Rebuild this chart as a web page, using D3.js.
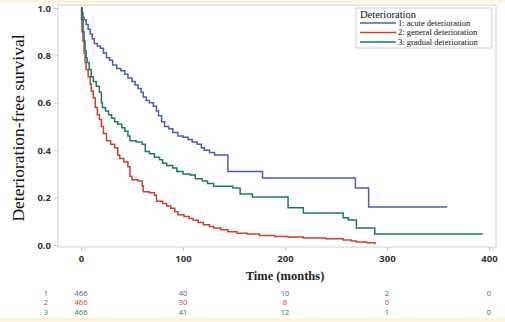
<!DOCTYPE html>
<html><head><meta charset="utf-8">
<script src="https://cdn.jsdelivr.net/npm/d3@7"></script>
<style>html,body{margin:0;padding:0;background:#fff;}svg{display:block;}</style>
</head><body>
<svg id="c" width="505" height="322"></svg>
<script>
const seriesNames = ["1: acute deterioration","2: general deterioration","3: gradual deterioration"];
const seriesColors = ["#4a5cb0","#c8412d","#187a68"];
const xTicks = [0,100,200,300,400];
const yTicks = [0,0.2,0.4,0.6,0.8,1.0];
const riskLabels = ["1","2","3"];
const riskAcute = [466,40,10,2,0];
const riskGeneral = [466,30,8,0,null];
const riskGradual = [466,41,12,1,0];
const acute = [[0,1.0],[1,0.98],[2,0.96],[3,0.95],[5,0.93],[7,0.91],[9,0.89],[11,0.87],[13,0.85],[16,0.84],[19,0.83],[22,0.81],[25,0.79],[28,0.78],[31,0.76],[35,0.745],[39,0.735],[43,0.72],[46,0.705],[50,0.69],[53,0.675],[56,0.66],[59,0.645],[61,0.625],[64,0.61],[67,0.6],[71,0.585],[74,0.565],[76,0.545],[79,0.52],[82,0.5],[86,0.49],[90,0.475],[95,0.46],[100,0.455],[105,0.445],[109,0.435],[114,0.425],[118,0.41],[121,0.4],[126,0.39],[131,0.38],[144,0.31],[178,0.283],[269,0.24],[282,0.16],[359,0.16]];
const general = [[0,1],[0.5,0.95],[1,0.9],[2,0.86],[3,0.81],[4,0.77],[5,0.74],[7,0.71],[9,0.68],[10,0.65],[12,0.62],[14,0.58],[16,0.55],[18,0.53],[20,0.5],[22,0.47],[25,0.44],[29,0.425],[33,0.41],[36,0.38],[38,0.365],[42,0.35],[46,0.33],[48,0.29],[50,0.275],[56,0.27],[60,0.25],[61,0.225],[67,0.22],[72,0.21],[74,0.185],[80,0.175],[84,0.165],[88,0.155],[92,0.14],[95,0.128],[101,0.12],[106,0.112],[110,0.104],[115,0.095],[120,0.085],[126,0.078],[130,0.072],[137,0.064],[144,0.056],[153,0.05],[163,0.046],[175,0.04],[190,0.036],[203,0.034],[218,0.03],[240,0.026],[257,0.021],[265,0.017],[270,0.013],[280,0.01],[288,0.006],[289,0.006]];
const gradual = [[0,1],[1,0.95],[2,0.9],[3,0.86],[4,0.82],[5,0.79],[6,0.77],[8,0.74],[10,0.71],[12,0.69],[15,0.67],[18,0.645],[20,0.6],[21,0.58],[24,0.565],[27,0.55],[30,0.535],[33,0.52],[36,0.51],[40,0.495],[43,0.48],[46,0.46],[48,0.44],[54,0.435],[60,0.425],[63,0.395],[67,0.385],[72,0.37],[77,0.36],[80,0.345],[84,0.335],[90,0.325],[94,0.31],[100,0.3],[107,0.295],[112,0.28],[119,0.27],[124,0.26],[130,0.248],[149,0.24],[156,0.215],[168,0.203],[203,0.157],[218,0.135],[257,0.115],[262,0.105],[270,0.072],[288,0.046],[394,0.046]];

const svg = d3.select("#c");
svg.append("rect").attr("x",0).attr("y",0).attr("width",505).attr("height",3).attr("fill","#fcf5dc");
svg.append("rect").attr("x",0).attr("y",318).attr("width",505).attr("height",4).attr("fill","#fcf5dc");

const x = d3.scaleLinear().domain([0,400]).range([81,489]);
const y = d3.scaleLinear().domain([0,1]).range([245,8]);
const frame = {l:58,t:5,r:496,b:247};
svg.append("rect").attr("x",frame.l).attr("y",frame.t).attr("width",frame.r-frame.l).attr("height",frame.b-frame.t)
  .attr("fill","none").attr("stroke","#cfcfcf").attr("stroke-width",1);

const yAxis = svg.append("g").attr("transform",`translate(${frame.l},0)`)
  .call(d3.axisLeft(y).tickValues(yTicks).tickFormat(d3.format(".1f")).tickSize(4).tickPadding(3));
const xAxis = svg.append("g").attr("transform",`translate(0,${frame.b})`)
  .call(d3.axisBottom(x).tickValues(xTicks).tickFormat(d3.format("d")).tickSize(4).tickPadding(4));
[yAxis,xAxis].forEach(g=>{
  g.select(".domain").remove();
  g.selectAll(".tick line").attr("stroke","#c8c8c8");
  g.selectAll(".tick text").attr("font-family","'Open Sans',Arial,sans-serif").attr("font-size",9.5).attr("font-weight","bold").attr("fill","#333");
});

const line = d3.line().x(d=>x(d[0])).y(d=>y(d[1])).curve(d3.curveStepAfter);
[acute,general,gradual].forEach((s,i)=>{
  svg.append("path").attr("d",line(s)).attr("fill","none").attr("stroke",seriesColors[i]).attr("stroke-width",1.5);
});

svg.append("text").attr("transform","translate(24,128) rotate(-90)").attr("text-anchor","middle")
  .attr("font-family","'Liberation Serif','Times New Roman',serif").attr("font-size",17.5).attr("fill","#111")
  .text("Deterioration-free survival");
svg.append("text").attr("x",285).attr("y",280).attr("text-anchor","middle")
  .attr("font-family","'Liberation Serif','Times New Roman',serif").attr("font-size",12.5).attr("font-weight","bold").attr("fill","#222")
  .text("Time (months)");

// legend
const lg = svg.append("g");
lg.append("rect").attr("x",356).attr("y",8).attr("width",136).attr("height",40).attr("fill","#fff").attr("stroke","#cfcfcf");
lg.append("text").attr("x",360).attr("y",17.5).attr("font-family","'Liberation Serif','Times New Roman',serif").attr("font-size",10.5).attr("fill","#111").text("Deterioration");
seriesNames.forEach((n,i)=>{
  const yy = 23 + i*9.5;
  lg.append("line").attr("x1",360).attr("x2",396).attr("y1",yy).attr("y2",yy).attr("stroke",seriesColors[i]).attr("stroke-width",1.5);
  lg.append("text").attr("x",398).attr("y",yy+2.8).attr("font-family","'Liberation Serif','Times New Roman',serif").attr("font-size",8.5).attr("fill","#111").text(n);
});

// risk table
const rows = [riskAcute,riskGeneral,riskGradual];
rows.forEach((r,i)=>{
  const yy = 296 + i*9.3;
  svg.append("text").attr("x",46).attr("y",yy).attr("text-anchor","middle").attr("font-family","'Open Sans',Arial,sans-serif").attr("font-size",7.5).attr("fill",seriesColors[i]).text(riskLabels[i]);
  r.forEach((v,j)=>{
    if(v===null) return;
    svg.append("text").attr("x",x(xTicks[j])).attr("y",yy).attr("text-anchor","middle").attr("font-family","'Open Sans',Arial,sans-serif").attr("font-size",7.5).attr("fill",seriesColors[i]).text(v);
  });
});
</script>
</body></html>
